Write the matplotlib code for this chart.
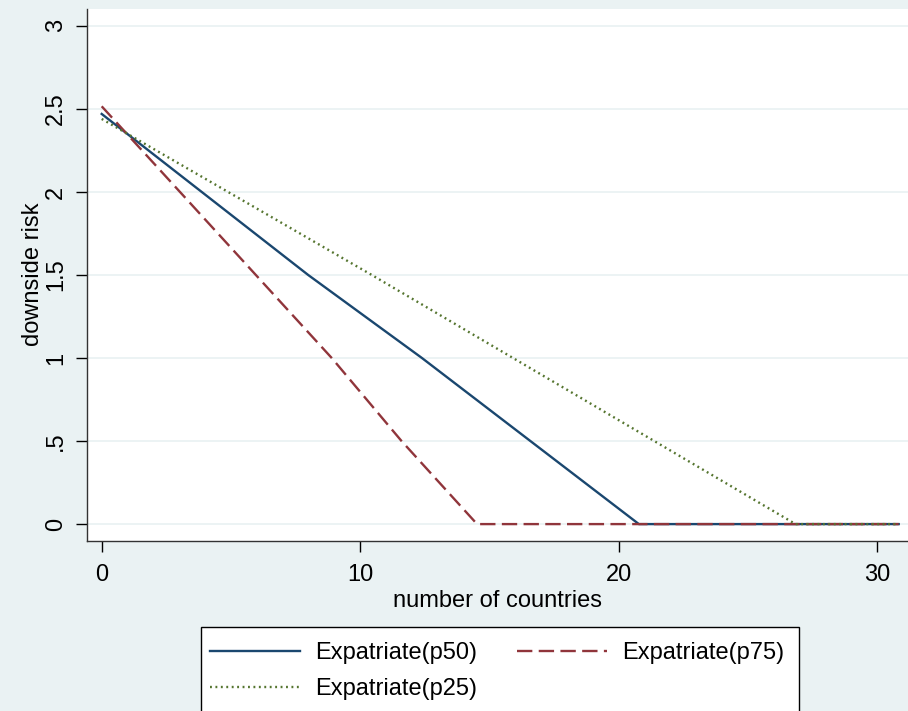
import numpy as np
import matplotlib.pyplot as plt
from matplotlib.patches import Rectangle

plt.rcParams['font.family'] = ['Liberation Sans', 'DejaVu Sans']

# downside risk against number of countries, one series per percentile
x_p50 = [0, 7.99, 12.39, 20.78, 30.83]
y_p50 = [2.47, 1.5, 1.0, 0, 0]
x_p75 = [0, 8.9, 11.6, 14.52, 30.83]
y_p75 = [2.516, 1.0, 0.5, 0, 0]
x_p25 = [0, 10.45, 26.84, 30.83]
y_p25 = [2.44, 1.5, 0, 0]

labels = ['Expatriate(p50)', 'Expatriate(p75)', 'Expatriate(p25)']
xticks = [0, 10, 20, 30]
yticks = [0, 0.5, 1, 1.5, 2, 2.5, 3]
ytick_labels = ['0', '.5', '1', '1.5', '2', '2.5', '3']

bg = '#eaf2f3'
W, H = 908, 711
fs = 17

fig = plt.figure(figsize=(W / 100, H / 100), dpi=100, facecolor=bg)
ax = fig.add_axes([86.7 / W, 1 - 540.7 / H, 1 - 86.7 / W, (540.7 - 8.5) / H])

l50, = ax.plot(x_p50, y_p50, color='#1a476f', lw=1.7)
l75, = ax.plot(x_p75, y_p75, color='#90353b', lw=1.7, dashes=(6.5, 2.7))
l25, = ax.plot(x_p25, y_p25, color='#55752f', lw=1.7, dashes=(0.8, 1.5))

ax.set_xlim(-0.58, 31.19)
ax.set_ylim(-0.1, 3.105)
ax.set_xticks(xticks)
ax.set_yticks(yticks)
ax.set_yticklabels(ytick_labels, rotation=90, va='center')
ax.tick_params(direction='out', length=8, width=1, labelsize=fs, pad=6, colors='black')
ax.tick_params(axis='x', pad=9)
ax.grid(axis='y', color=bg, lw=1.3)
ax.set_axisbelow(True)
for s in ['top', 'right']:
    ax.spines[s].set_visible(False)
for s in ['left', 'bottom']:
    ax.spines[s].set_color('#333333')
    ax.spines[s].set_linewidth(1)

ax.set_xlabel('number of countries', fontsize=fs, labelpad=3)
ax.set_ylabel('downside risk', fontsize=fs, labelpad=1)

# legend box runs off the bottom of the image in the reference
fig.add_artist(Rectangle((201 / W, -0.05), (799 - 201) / W, 0.05 + 1 - 627 / H,
                         transform=fig.transFigure, facecolor='white',
                         edgecolor='black', lw=1, clip_on=False, zorder=0))
fig.legend([l50, l25, l75], [labels[0], labels[2], labels[1]], ncol=2,
           loc='upper left', bbox_to_anchor=(210 / W, 1 - 642 / H),
           frameon=False, fontsize=fs, handlelength=3.8, handletextpad=0.64,
           columnspacing=1.7, labelspacing=0.6, borderpad=0, borderaxespad=0)

fig.savefig('out.png', dpi=100, facecolor=bg)
